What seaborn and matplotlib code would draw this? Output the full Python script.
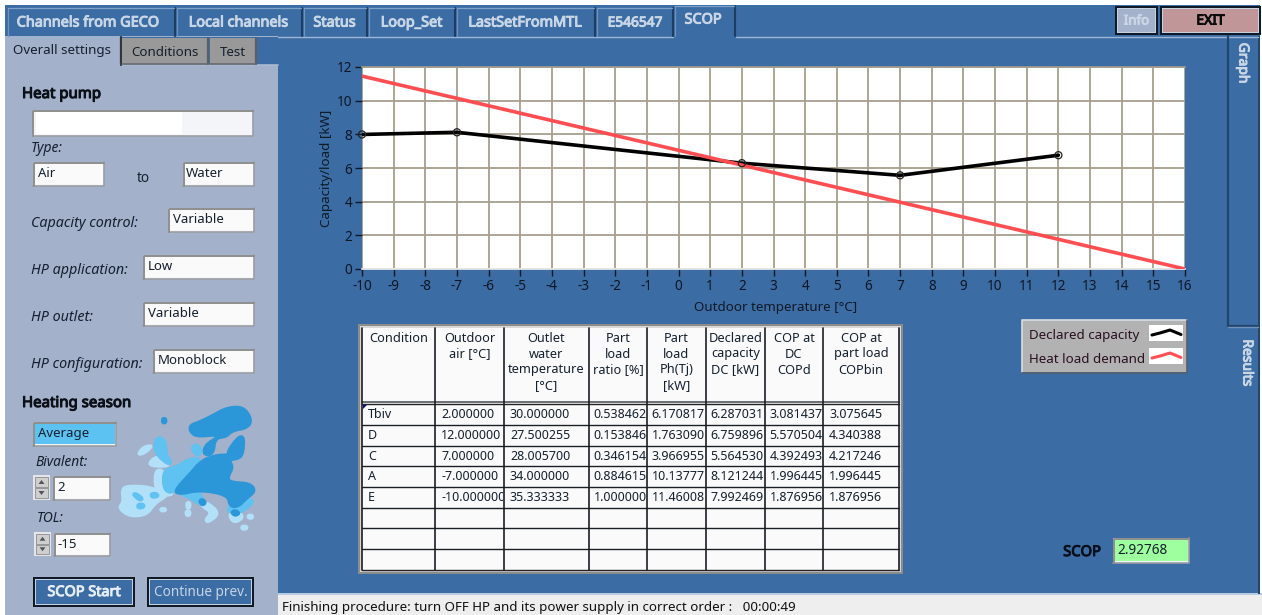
import matplotlib
matplotlib.use("Agg")
import matplotlib.pyplot as plt
import matplotlib.patheffects as pe
from matplotlib.patches import Rectangle, Polygon
from matplotlib.transforms import Bbox
import pandas as pd
import seaborn as sns

# ---------- data ----------
capacity_t = [-10, -7, 2, 7, 12]
capacity_kw = [7.992469, 8.121244, 6.287031, 5.564530, 6.759896]
load_t = [-10, -7, 2, 7, 12, 16]
load_kw = [11.46008, 10.13777, 6.170817, 3.966955, 1.763090, 0.0]
series_names = ["Declared capacity", "Heat load demand"]
x_ticks = list(range(-10, 17))
y_ticks = [0, 2, 4, 6, 8, 10, 12]

table_headers = ["Condition", "Outdoor\nair [°C]", "Outlet\nwater\ntemperature\n[°C]", "Part\nload\nratio [%]",
                 "Part\nload\nPh(Tj)\n[kW]", "Declared\ncapacity\nDC [kW]", "COP at\nDC\nCOPd", "COP at\npart load\nCOPbin"]
cond = ["Tbiv", "D", "C", "A", "E"]
outdoor = ["2.000000", "12.000000", "7.000000", "-7.000000", "-10.000000"]
outlet = ["30.000000", "27.500255", "28.005700", "34.000000", "35.333333"]
ratio = ["0.538462", "0.153846", "0.346154", "0.884615", "1.000000"]
part_load = ["6.170817", "1.763090", "3.966955", "10.13777", "11.46008"]
declared = ["6.287031", "6.759896", "5.564530", "8.121244", "7.992469"]
cop_dc = ["3.081437", "5.570504", "4.392493", "1.996445", "1.876956"]
cop_bin = ["3.075645", "4.340388", "4.217246", "1.996445", "1.876956"]
table_cols = [cond, outdoor, outlet, ratio, part_load, declared, cop_dc, cop_bin]

top_tabs = ["Channels from GECO", "Local channels", "Status", "Loop_Set", "LastSetFromMTL", "E546547", "SCOP"]
scop_value = "2.92768"
status_text = "Finishing procedure: turn OFF HP and its power supply in correct order :   00:00:49"

# ---------- palette / layout ----------
BLUE = "#3B6CA4"; PANEL = "#A3B1CB"; DARK = "#14202E"; TABTXT = "#C8D6E6"
GRID = "#A79E8E"
W, H = 1262, 615
sns.set_theme(style="white")
plt.rcParams["font.family"] = ["Noto Sans", "DejaVu Sans"]
plt.rcParams["axes.unicode_minus"] = False
fig = plt.figure(figsize=(W / 100, H / 100), dpi=100, facecolor="white")

ui = fig.add_axes([0, 0, 1, 1], zorder=0)
ui.set_xlim(0, W); ui.set_ylim(H, 0); ui.axis("off")


def rect(x0, y0, x1, y1, fc, ec="none", lw=0.0, z=1):
    ui.add_patch(Rectangle((x0, y0), x1 - x0, y1 - y0, fc=fc, ec=ec, lw=lw, zorder=z))


def txt(x, y, s, size=9.6, color=DARK, ha="left", bold=False, style="normal", rot=0, z=6, clip=None, linespacing=1.0, va="center"):
    t = ui.text(x, y, s, fontsize=size, color=color, ha=ha, va=va, fontstyle=style,
                rotation=rot, zorder=z, linespacing=linespacing)
    if bold:
        t.set_path_effects([pe.withStroke(linewidth=0.75, foreground=color)])
    if clip is not None:
        (x0, y0, x1, y1) = clip
        p0 = ui.transData.transform((x0, y1)); p1 = ui.transData.transform((x1, y0))
        t.set_clip_box(Bbox([p0, p1])); t.set_clip_on(True)
    return t


def field(x0, y0, x1, y1, s="", fc="#FAFAFA", tx=None, size=9.5):
    rect(x0, y0, x1, y1, "#F4F5F7", z=2)
    rect(x0 + 2, y0 + 2, x1 - 1, y1 - 2, fc, z=3)
    ui.plot([x0, x1, x1], [y1, y1, y0], color="#9A9DA3", lw=1.2, zorder=3)
    ui.plot([x0 + .5, x0 + .5, x1], [y1, y0 + .5, y0 + .5], color="#8E8E8E", lw=1.4, zorder=4)
    if s:
        txt(x0 + (tx or 5), (y0 + y1) / 2 - 0.3, s, size=size)


def button(x0, y0, x1, y1, s, color, fc=BLUE, size=10, bold=True):
    rect(x0, y0, x1, y1, "#101A26", z=2)
    rect(x0 + 1.5, y0 + 1.5, x1 - 2, y1 - 2, "#C6D2E2", z=3)
    rect(x0 + 3, y0 + 3, x1 - 3, y1 - 3, fc, z=4)
    txt((x0 + x1) / 2, (y0 + y1) / 2 + .5, s, size=size, color=color, ha="center", bold=bold)


def spin(x0, y0, x1, y1):
    rect(x0, y0, x1, y1, "#E4E6EB", z=2)
    ym = (y0 + y1) / 2
    for a, b, up in ((y0 + 2, ym - .5, True), (ym + .5, y1 - 2, False)):
        rect(x0 + 2, a, x1 - 2, b, "#CFCFCF", ec="#8C8C8C", lw=.6, z=3)
        c = (a + b) / 2
        xs = [(x0 + x1) / 2 - 3, (x0 + x1) / 2 + 3, (x0 + x1) / 2]
        ys = [c + 2, c + 2, c - 2] if up else [c - 2, c - 2, c + 2]
        ui.add_patch(Polygon(list(zip(xs, ys)), fc="#555555", ec="none", zorder=4))


def rounded(pts, passes=2):
    # corner cutting, so that the schematic map outline is not angular
    for _ in range(passes):
        out = []
        for (a, b), (c, d) in zip(pts, pts[1:] + pts[:1]):
            out.append((.75 * a + .25 * c, .75 * b + .25 * d))
            out.append((.25 * a + .75 * c, .25 * b + .75 * d))
        pts = out
    return pts


# ---------- window chrome ----------
rect(0, 5, 1260, 594, BLUE)
rect(0, 594, 280, H, BLUE)
rect(278, 594, W, H, "#EEEEEE")
rect(278, 593, W, 595, "#B9CBE0", z=2)
rect(5, 36, 278, H, PANEL, z=1)
rect(0, 36, 5, H, "white", z=1)
rect(0, 5, 5, 36, "white", z=1)
rect(1258, 36, 1260, 594, "#25466C", z=2)
ui.plot([5, 673], [36.5, 36.5], color="#9DB6D3", lw=1.0, zorder=2)
ui.plot([736, 1258], [36.5, 36.5], color="#9DB6D3", lw=1.0, zorder=2)

# top tabs
tab_edges = [6, 175, 302, 367, 455, 595, 673, 735]
tab_cx = [88, 238.5, 334.5, 411.5, 525, 635, 703]
for i, s in enumerate(top_tabs):
    active = s == "SCOP"
    x0, x1 = tab_edges[i], tab_edges[i + 1]
    ytop = 6 if active else 8
    ui.plot([x1, x1], [ytop, 36], color="#1E3D63", lw=1.5, zorder=3)
    ui.plot([x0 + 2, x0 + 2], [ytop, 36], color="#6E93BD", lw=.9, zorder=3)
    ui.plot([x0 + 2, x1 - 1], [ytop, ytop], color="#7FA2C8", lw=.9, zorder=3)
    txt(tab_cx[i], 23 if not active else 20, s, size=10.4 if s != "E546547" else 9.9, color=TABTXT, ha="center", bold=True)

button(1115, 6, 1158, 35, "Info", TABTXT, fc="#A3B1CB", size=9.6)
button(1160, 6, 1261, 35, "EXIT", "#0A0A0A", fc="#C09698", size=10)

# sub tabs
rect(120, 37, 278, 65, BLUE, z=2)
ui.plot([120, 278], [65, 65], color="#A9BAD2", lw=1.2, zorder=3)
ui.plot([120.5, 120.5], [37, 65], color="#2F3640", lw=1.6, zorder=3)
for x0, x1, s in ((122, 208, "Conditions"), (210, 256, "Test")):
    rect(x0, 38, x1, 64, "#999999", z=3)
    ui.plot([x1, x1], [38, 64], color="#5A5F66", lw=1.6, zorder=4)
    ui.plot([x0, x1], [64, 64], color="#666B70", lw=1.2, zorder=4)
    txt((x0 + x1) / 2, 52.5, s, ha="center", size=9.6)
txt(13, 50.5, "Overall settings", size=9.6)

# vertical side tabs
ui.plot([1227.5, 1227.5, 1258], [36, 326, 326], color="#24456B", lw=1.6, zorder=3)
ui.plot([1228, 1258], [327, 327], color="#6E93BD", lw=1, zorder=3)
txt(1243, 63, "Graph", size=10, color=TABTXT, bold=True, rot=-90, ha="center")
txt(1247, 363, "Results", size=10, color=TABTXT, bold=True, rot=-90, ha="center")

# left panel
txt(22, 94.5, "Heat pump", size=10.8, bold=True, color="#0B0F16")
field(32, 110, 253, 136, fc="#F4F5F8")
rect(36, 112, 182, 134, "white", z=4)
txt(31, 148.5, "Type:", style="italic", size=10)
field(33, 162, 104, 186, "Air")
txt(143, 178, "to", ha="center", size=9.8)
field(183, 162, 254, 186, "Water", tx=3)
for y, lab, x0, s in ((223, "Capacity control:", 168, "Variable"), (270, "HP application:", 143, "Low"),
                      (317, "HP outlet:", 143, "Variable"), (364, "HP configuration:", 153, "Monoblock")):
    txt(31, y + .5, lab, style="italic", size=10.3)
    field(x0, y - 15, 254, y + 9, s)
txt(22, 403.5, "Heating season", size=10.8, bold=True, color="#0B0F16")
field(33, 422, 116, 446, "Average", fc="#5CC2F2")
txt(35, 462, "Bivalent:", style="italic", size=9.9)
spin(33, 475, 50, 500)
field(53, 476, 110, 500, "2", tx=4)
txt(37, 518.5, "TOL:", style="italic", size=9.9)
spin(34, 532, 51, 556)
field(54, 533, 110, 556, "-15", tx=4)
button(33, 577, 135, 607, "SCOP Start", "#E4ECF5", size=10.4)
button(147, 577, 254, 607, "Continue prev.", "#C6D4E6", size=9.8, bold=False)

# map of Europe (schematic outline, in picture pixels, offset + 1/3 scale)
MD = "#2B97D8"; MM = "#5FC2F1"; ML = "#B2E0F8"
map_shapes = [
    (ML, [(65, 285), (80, 272), (150, 275), (190, 295), (205, 300), (165, 325), (140, 360), (90, 365), (55, 340), (70, 320)]),
    (ML, [(165, 225), (192, 225), (192, 280), (222, 298), (195, 302), (165, 285)]),
    (ML, [(140, 212), (170, 180), (207, 205), (200, 215)]),
    (ML, [(112, 180), (130, 155), (160, 150), (135, 175)]),
    (ML, [(300, 330), (320, 320), (360, 355), (325, 383), (315, 375), (335, 352)]),
    (ML, [(385, 355), (420, 350), (430, 370), (400, 385)]),
    (ML, [(260, 322), (270, 322), (270, 340), (260, 340)]),
    (ML, [(258, 347), (270, 347), (270, 362), (258, 362)]),
    (ML, [(182, 340), (197, 340), (197, 348), (182, 348)]),
    (ML, [(425, 393), (441, 393), (441, 403), (425, 403)]),
    (ML, [(444, 360), (458, 360), (458, 370), (444, 370)]),
    (MM, [(165, 135), (180, 125), (198, 140), (198, 180), (215, 200), (205, 210), (165, 175)]),
    (MM, [(272, 160), (290, 146), (305, 165), (295, 185)]),
    (MM, [(190, 225), (230, 215), (270, 190), (306, 190), (268, 238), (222, 285), (210, 295), (190, 280)]),
    (MM, [(245, 290), (290, 280), (315, 320), (300, 330), (265, 305), (245, 300)]),
    (MM, [(385, 335), (415, 335), (450, 310), (462, 322), (420, 355), (385, 350)]),
    (MM, [(97, 297), (110, 295), (130, 312), (118, 317)]),
    (MM, [(152, 295), (172, 295), (175, 305), (155, 308)]),
    (MM, [(113, 327), (132, 327), (132, 338), (113, 340)]),
    (MD, [(270, 90), (300, 80), (340, 60), (380, 38), (430, 35), (455, 72), (445, 98), (395, 108), (380, 125),
          (345, 130), (340, 178), (310, 180), (315, 150), (355, 125), (345, 120), (290, 125), (270, 110)]),
    (MD, [(385, 165), (415, 125), (432, 125), (430, 170), (420, 190), (385, 195), (400, 215), (382, 250), (395, 262),
          (450, 265), (467, 288), (440, 310), (415, 335), (390, 335), (383, 300), (300, 285), (240, 298), (222, 288),
          (268, 238), (306, 195), (350, 180), (385, 180)]),
    (MD, [(187, 70), (198, 70), (198, 84), (187, 84)]),
    (MD, [(297, 318), (308, 312), (318, 323), (307, 332)]),
    (MD, [(393, 352), (405, 345), (420, 355), (405, 363)]),
]
for col, pts in map_shapes:
    ui.add_patch(Polygon([(100 + a / 3, 395 + b / 3) for a, b in rounded(pts)], fc=col, ec=col, lw=2.0, joinstyle="round", zorder=2))

# ---------- table ----------
col_x = [362, 435, 504, 589, 647, 706, 765, 823, 899]
row_y = [404, 425, 446, 466, 487, 507.5, 528, 549, 570]
rect(358, 324, 903, 574, "#8C8C8C", z=2)
rect(360, 326, 901, 572, "#D8D8D8", z=2)
rect(362, 328, 899, 570, "#FAFAFA", z=3)
LINE = "#1B1F24"
ui.plot([362, 899], [402, 402], color="#6B6F73", lw=1.4, zorder=4)
for y in row_y:
    ui.plot([362, 899], [y, y], color=LINE if y not in (404, 570) else "#222222", lw=1.0, zorder=4)
for x in col_x:
    ui.plot([x, x], [328, 570], color=LINE, lw=1.2, zorder=4)
for h, (a, b) in zip(table_headers, zip(col_x[:-1], col_x[1:])):
    txt((a + b) / 2, 331.5, h, size=9.2, ha="center", va="top", linespacing=1.3)
for c, (vals, a, b) in enumerate(zip(table_cols, col_x[:-1], col_x[1:])):
    for r, v in enumerate(vals):
        ym = (row_y[r] + row_y[r + 1]) / 2 + .3
        txt(a + (6 if c in (0, 1, 2, 7) else 4.5), ym, v, size=9.0, clip=(a, row_y[r], b - 1, row_y[r + 1]))
ui.add_patch(Polygon([(363, 405), (367, 405), (363, 409)], fc="#10107A", ec="none", zorder=5))

# legend panel
rect(1022, 320, 1187, 372, "#B2B2B2", z=2)
ui.plot([1022, 1022, 1187], [372, 320, 320], color="#D8DEE6", lw=1.2, zorder=3)
ui.plot([1022, 1187, 1187], [372.5, 372.5, 320], color="#555F6C", lw=1.2, zorder=3)
txt(1029, 335.5, series_names[0], size=9.6, color="#2A1020")
txt(1029, 359.5, series_names[1], size=9.6, color="#2A1020")
for ym, col in ((333, "black"), (356, "#FF5055")):
    rect(1149, ym - 8, 1183, ym + 8, "white", z=3)
    ui.plot([1152, 1160, 1170, 1181], [ym + 2, ym, ym - 3, ym + 1.5], color=col, lw=2.2, zorder=4)

# SCOP read-out and status bar
txt(1082, 552.5, "SCOP", size=10.6, bold=True, color="#06101C", ha="center")
field(1113, 538, 1189, 563, scop_value, fc="#9EFF9E", tx=4, size=9.8)
txt(282, 608, status_text, size=9.6, color="#101010")

# ---------- chart ----------
ax = fig.add_axes([362 / W, 1 - 269 / H, (1185 - 362) / W, (269 - 67) / H], zorder=2, facecolor="white")
frame = pd.concat([
    pd.DataFrame({"t": capacity_t, "kw": capacity_kw, "series": series_names[0]}),
    pd.DataFrame({"t": load_t, "kw": load_kw, "series": series_names[1]}),
])
sns.lineplot(data=frame, x="t", y="kw", hue="series", palette=["black", "#FF4E52"], hue_order=series_names,
             lw=2.6, legend=False, ax=ax, estimator=None, sort=False, zorder=3)
sns.scatterplot(x=capacity_t, y=capacity_kw, s=26, facecolor="none", edgecolor="#222222", linewidth=0.9,
                ax=ax, clip_on=False, zorder=4)
ax.set_xlim(-10, 16); ax.set_ylim(0, 12)
ax.set_xticks(x_ticks); ax.set_yticks(y_ticks)
ax.grid(True, color=GRID, lw=1.3)
ax.set_axisbelow(True)
for side in ax.spines.values():
    side.set_visible(False)
ax.spines["top"].set_visible(True); ax.spines["top"].set_color(GRID); ax.spines["top"].set_linewidth(1.2)
ax.spines["bottom"].set_visible(True); ax.spines["bottom"].set_color("#F2F2F2"); ax.spines["bottom"].set_linewidth(1.2)
ax.tick_params(axis="both", direction="out", length=5, width=1.0, color="#101A26", labelcolor="#0E1726",
               labelsize=9.8, pad=2, bottom=True, left=True)
ax.set_xlabel("Outdoor temperature [°C]", fontsize=9.6, color="#101A26", labelpad=5.5, x=0.502)
ax.set_ylabel("Capacity/load [kW]", fontsize=9.6, color="#101A26", labelpad=3)

fig.savefig("out.png", dpi=100, facecolor="white")
